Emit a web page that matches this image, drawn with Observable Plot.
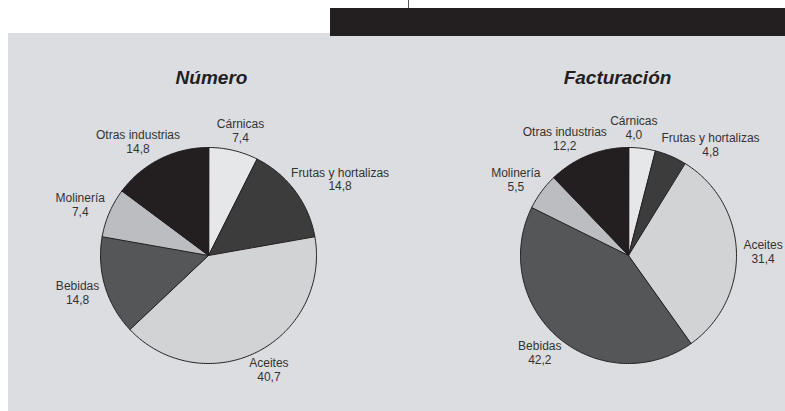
<!DOCTYPE html>
<html><head><meta charset="utf-8">
<script src="https://cdn.jsdelivr.net/npm/d3@7"></script>
<script src="https://cdn.jsdelivr.net/npm/@observablehq/plot@0.6"></script>
<style>
html,body{margin:0;padding:0;width:785px;height:411px;overflow:hidden;background:#fff;}
#panel{position:absolute;left:8px;top:33px;right:0;bottom:0;background:#dcdde0;}
#bar{position:absolute;left:330px;top:8px;width:455px;height:28px;background:#231f20;}
#tick{position:absolute;left:408px;top:0;width:1px;height:8px;background:#555;}
.chart{position:absolute;top:0;width:440px;height:411px;}
</style></head><body>
<div id="panel"></div><div id="bar"></div><div id="tick"></div>
<div id="left" class="chart" style="left:-12px"></div>
<div id="right" class="chart" style="left:408px"></div>
<script>
// ---- data ----
const categories = ["Cárnicas", "Frutas y hortalizas", "Aceites", "Bebidas", "Molinería", "Otras industrias"];
const numero = [7.4, 14.8, 40.7, 14.8, 7.4, 14.8];
const facturacion = [4.0, 4.8, 31.4, 42.2, 5.5, 12.2];
const titles = ["Número", "Facturación"];

// ---- style ----
const palette = ["#e6e7e9", "#3c3c3d", "#d2d3d5", "#555658", "#bcbdc0", "#231f20"];
const FONT = "'Liberation Sans', Arial, sans-serif";
const R = 108;            // pie radius in px (1 data unit)
const W = 440, H = 411, CY = 255;
const GAP = 7, LH = 26, PAD = 3;
const fmt = (v) => d3.format(".1f")(v).replace(".", ",");

const ctx = document.createElement("canvas").getContext("2d");
ctx.font = "12px 'Liberation Sans'";

// generic outside-label layout: start at slice mid-angle, then rotate
// overlapping labels apart until no two label boxes intersect
function layoutLabels(arcs, values) {
  const items = arcs.map((a, i) => ({
    i,
    theta: (a.startAngle + a.endAngle) / 2,
    w: Math.max(ctx.measureText(categories[i]).width, ctx.measureText(fmt(values[i])).width)
  }));
  const place = (it) => {
    const s = Math.sin(it.theta), c = Math.cos(it.theta);
    it.cx = (R + GAP) * s + (it.w / 2) * s;
    it.cy = -((R + GAP) * c + (LH / 2) * c);
  };
  const overlap = (a, b) =>
    Math.abs(a.cx - b.cx) < (a.w + b.w) / 2 + PAD && Math.abs(a.cy - b.cy) < LH + PAD;
  items.forEach(place);
  const step = Math.PI / 360;
  for (let iter = 0; iter < 400; ++iter) {
    let moved = false;
    for (let i = 0; i < items.length; ++i) {
      for (let j = i + 1; j < items.length; ++j) {
        const a = items[i], b = items[j];
        if (!overlap(a, b)) continue;
        let d = b.theta - a.theta;
        while (d > Math.PI) d -= 2 * Math.PI;
        while (d <= -Math.PI) d += 2 * Math.PI;
        const sg = d >= 0 ? 1 : -1;
        b.theta += sg * step; a.theta -= sg * step;
        place(a); place(b);
        moved = true;
      }
    }
    if (!moved) break;
  }
  return items.map(it => ({
    text: categories[it.i] + "\n" + fmt(values[it.i]),
    x: it.cx / R,
    y: -it.cy / R
  }));
}

function pieChart(values, title, titleDx) {
  const arcs = d3.pie().sort(null).value(d => d)(values);
  const pts = [];
  arcs.forEach((a, i) => {
    const cat = categories[i];
    pts.push({cat, x: 0, y: 0});
    const n = Math.max(2, Math.ceil((a.endAngle - a.startAngle) / (Math.PI / 180)));
    for (let k = 0; k <= n; ++k) {
      const t = a.startAngle + (a.endAngle - a.startAngle) * k / n;
      pts.push({cat, x: Math.sin(t), y: Math.cos(t)});
    }
  });
  const labels = layoutLabels(arcs, values);
  return Plot.plot({
    width: W, height: H,
    margin: 0,
    x: {domain: [-W / 2 / R, W / 2 / R], axis: null},
    y: {domain: [-(H - CY) / R, CY / R], axis: null},
    color: {domain: categories, range: palette},
    style: {background: "transparent", overflow: "visible", fontFamily: FONT},
    marks: [
      Plot.line(pts, {x: "x", y: "y", z: "cat", fill: "cat", stroke: "#231f20", strokeWidth: 1, curve: "linear-closed"}),
      Plot.text(labels, {x: "x", y: "y", text: "text", fontSize: 12, lineHeight: 1.16, fill: "#333", fontFamily: FONT}),
      Plot.text([title], {frameAnchor: "top", lineAnchor: "middle", dy: 77, dx: titleDx, fontSize: 19, fontWeight: "bold", fontStyle: "italic", fill: "#231f20", fontFamily: FONT})
    ]
  });
}

document.getElementById("left").append(pieChart(numero, titles[0], 3));
document.getElementById("right").append(pieChart(facturacion, titles[1], -11));
</script>
</body></html>
